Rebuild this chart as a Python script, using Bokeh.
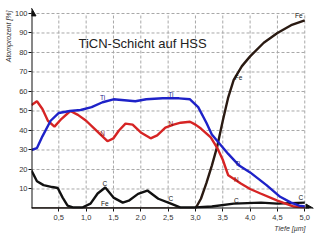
import math
from bokeh.plotting import figure
from bokeh.models import Range1d, FixedTicker, Label, ColumnDataSource, Title
from bokeh.core.properties import value
from bokeh.embed import file_html
from bokeh.resources import INLINE

# ---- data ----
ti_depth = [0.0, 0.1, 0.2, 0.35, 0.5, 0.7, 0.9, 1.1, 1.3, 1.5, 1.7, 1.9, 2.1, 2.4, 2.7, 2.9, 3.05, 3.2, 3.3, 3.45, 3.6, 3.8, 4.0, 4.3, 4.55, 4.75, 4.9, 5.0]
ti_val = [30, 31, 37, 45, 49, 50, 50.5, 52, 54.5, 56, 55.5, 55, 56, 56.5, 56.5, 56, 52, 44, 38, 33, 28, 22, 18.5, 12, 6, 3, 1.5, 1]

n_depth = [0.0, 0.1, 0.2, 0.3, 0.42, 0.55, 0.71, 0.85, 1.0, 1.15, 1.26, 1.39, 1.5, 1.6, 1.72, 1.85, 2.0, 2.18, 2.3, 2.45, 2.6, 2.73, 2.9, 3.0, 3.1, 3.28, 3.4, 3.5, 3.6, 3.83, 4.0, 4.19, 4.5, 4.8, 5.0]
n_val = [53, 55, 51, 45, 42, 46, 50, 48, 45, 41, 38, 34.5, 36, 40, 43.5, 43, 39, 36, 37.5, 41.5, 43, 44, 44.5, 43, 41, 36.5, 31, 25, 17, 12.8, 10, 7.7, 4, 1, 0.5]

c_depth = [0.0, 0.1, 0.22, 0.38, 0.48, 0.57, 0.66, 0.77, 0.93, 1.08, 1.21, 1.35, 1.5, 1.67, 1.78, 1.95, 2.12, 2.32, 2.55, 2.73, 3.0, 3.3, 3.7, 4.2, 4.5, 5.0]
c_val = [19.5, 14, 12, 11, 10.5, 5.6, 1.5, 0.5, 0.5, 2.5, 7.7, 10.8, 5.6, 3, 4, 7.5, 9.2, 5, 2.5, 0.5, 0.5, 1, 2.5, 3, 2.5, 3]

fe_depth = [0.0, 1.0, 2.0, 3.0, 3.1, 3.2, 3.3, 3.4, 3.5, 3.6, 3.7, 3.85, 4.0, 4.25, 4.5, 4.75, 5.0]
fe_val = [0, 0, 0, 0, 5, 13, 22, 32, 45, 57, 66, 73, 78, 85, 90, 94, 96.5]

x_ticks = [0.5, 1.0, 1.5, 2.0, 2.5, 3.0, 3.5, 4.0, 4.5, 5.0]
x_tick_labels = ["0,5", "1,0", "1,5", "2,0", "2,5", "3,0", "3,5", "4,0", "4,5", "5,0"]
y_ticks = [10, 20, 30, 40, 50, 60, 70, 80, 90, 100]

title_text = "TiCN-Schicht auf HSS"
y_label = "Atomprozent [%]"
x_label = "Tiefe [µm]"

lbl_text = ["Ti", "Ti", "Ti", "N", "N", "N", "C", "C", "C", "C", "Fe", "Fe", "Fe"]
lbl_x = [1.30, 2.55, 3.77, 1.30, 2.55, 3.75, 1.34, 2.55, 3.75, 4.93, 1.34, 3.79, 4.89]
lbl_y = [57, 58.5, 23, 38.5, 43.6, 15, 12.8, 5, 4, 5.6, 2.5, 67, 99]
lbl_color = ["#1a1a8a"] * 3 + ["#8a1010"] * 3 + ["#111111"] * 4 + ["#111111"] * 3

X_MAX = 5.16
Y_MAX = 104.1

BLUE = "#1e22c8"
RED = "#d62424"
BLACK = "#111111"

p = figure(width=320, height=240, output_backend="svg", toolbar_location=None,
           x_range=Range1d(0, X_MAX), y_range=Range1d(0, Y_MAX),
           min_border_left=31, min_border_right=7, min_border_top=5, min_border_bottom=32)
p.outline_line_color = None
p.background_fill_color = "white"
p.border_fill_color = "white"
p.xgrid.visible = False
p.ygrid.visible = False

# dashed grid limited to the 0..5 x 0..100 box
p.segment(x0=x_ticks, y0=[0] * len(x_ticks), x1=x_ticks, y1=[100] * len(x_ticks),
          line_color="#a8a8a8", line_dash="3 2", line_width=1)
p.segment(x0=[0] * len(y_ticks), y0=y_ticks, x1=[5.0] * len(y_ticks), y1=y_ticks,
          line_color="#a8a8a8", line_dash="3 2", line_width=1)

p.line(fe_depth, fe_val, line_color="#2a1a12", line_width=2.4)
p.line(c_depth, c_val, line_color=BLACK, line_width=2.4)
p.line(n_depth, n_val, line_color=RED, line_width=2.4)
p.line(ti_depth, ti_val, line_color=BLUE, line_width=2.4)

src = ColumnDataSource(dict(x=lbl_x, y=lbl_y, t=lbl_text, c=lbl_color))
p.text(x="x", y="y", text="t", text_color="c", source=src, text_font=value("Liberation Sans"),
       text_font_size="6.5px", text_align="center", text_baseline="middle")

# axis lines with arrow heads
p.segment(x0=[0, 0], y0=[0, 0], x1=[0, X_MAX - 0.08], y1=[Y_MAX - 3, 0],
          line_color=BLACK, line_width=2)
p.scatter(x=[0], y=[Y_MAX - 4], marker="triangle", size=9, fill_color=BLACK, line_color=BLACK)
p.scatter(x=[X_MAX - 0.09], y=[0], marker="triangle", angle=-math.pi / 2, size=9,
          fill_color=BLACK, line_color=BLACK)

# axes (ticks + labels only)
for ax in (p.xaxis[0], p.yaxis[0]):
    ax.axis_line_color = None
    ax.minor_tick_line_color = None
    ax.major_tick_in = 0
    ax.major_tick_out = 3
    ax.major_tick_line_color = BLACK
    ax.major_label_text_font = "Liberation Sans"
    ax.major_label_text_font_size = "7.5px"
    ax.major_label_text_color = "#333333"
p.xaxis.ticker = FixedTicker(ticks=x_ticks)
p.xaxis.major_label_overrides = {t: s for t, s in zip(x_ticks, x_tick_labels)}
p.xaxis.major_label_standoff = 3
p.yaxis.ticker = FixedTicker(ticks=y_ticks)
p.yaxis.major_label_standoff = 1

p.add_layout(Label(x=47, y=165, x_units="screen", y_units="screen", text=title_text,
                   text_font="Liberation Sans", text_font_size="13px", text_color="#222222",
                   text_baseline="middle", text_align="left"))
p.add_layout(Title(text=x_label, align="right", offset=8, text_font="Liberation Sans",
                   text_font_style="italic", text_font_size="7px", text_color="#333333",
                   standoff=0), "below")
p.add_layout(Title(text=y_label, align="right", offset=5, text_font="Liberation Sans",
                   text_font_style="italic", text_font_size="7px", text_color="#333333",
                   standoff=0), "left")

open("out.html", "w").write(file_html(p, INLINE))
